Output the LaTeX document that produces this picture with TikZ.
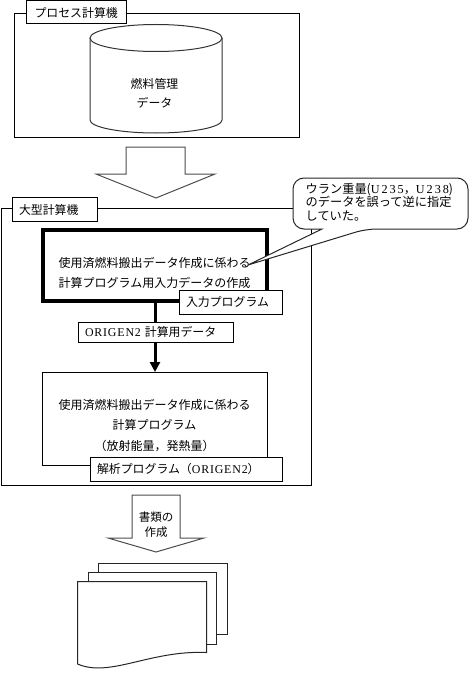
\documentclass[tikz,border=0pt]{standalone}
\usepackage{fontspec}
\setmainfont{Noto Sans CJK JP}
\newfontfamily\latinfont[LetterSpace=7]{Liberation Serif}
\newfontfamily\widelatin[LetterSpace=16]{Liberation Serif}
\usetikzlibrary{arrows.meta}
\begin{document}
\begin{tikzpicture}[
    x=1pt, y=-1pt,
    every node/.style={
        font=\fontsize{11.9}{13.5}\selectfont
    },
    frame box/.style={
        rectangle,
        draw=black,
        line width=1pt,
        anchor=north west,
        outer sep=0pt,
        inner sep=0pt
    },
    title box/.style={
        rectangle,
        draw=black,
        fill=white,
        line width=1pt,
        anchor=north west,
        align=left,
        outer sep=0pt,
        inner xsep=6.5pt,
        inner ysep=0pt
    },
    plain text/.style={
        align=center,
        inner sep=0pt
    },
    big arrow/.style={
        draw=black!70,
        fill=white,
        line width=1pt,
        line join=miter
    },
    sheet/.style={
        draw=black!85,
        fill=white,
        line width=1pt
    }
]
\useasboundingbox (0,0) rectangle (470,674);

% Process computer
\node[frame box, minimum width=284.5pt, minimum height=123pt] (processframe) at (14.5,14) {};
\node[title box, inner xsep=8pt, text width=83.5pt, minimum height=23pt] (processtitle) at (26.5,1) {プロセス計算機};

% Fuel data cylinder
\draw[draw=black!80, fill=white, line width=1pt] (90,38) -- (90,120)
    arc[start angle=180, end angle=360, x radius=66pt, y radius=13pt] -- (222,38);
\draw[draw=black!80, fill=white, line width=1pt] (156,38) ellipse[x radius=66pt, y radius=13.5pt];
\node[plain text] (fueltext) at (154.5,84) {燃料管理};
\node[plain text] (datatext) at (154.5,103) {データ};

% Arrow to large computer
\draw[big arrow] (126,147) -- (185,147) -- (185,174) -- (215,174) -- (156,198)
    -- (96,174) -- (126,174) -- cycle;

% Large computer
\node[frame box, minimum width=310.5pt, minimum height=277pt] (largeframe) at (1,208) {};
\node[title box, text width=72pt, minimum height=24pt] (largetitle) at (12.5,197.5) {大型計算機};

% Input data and analysis boxes
\node[frame box, line width=4pt, minimum width=224pt, minimum height=71pt] (inputbox) at (43,230) {};
\node[frame box, minimum width=225pt, minimum height=93pt] (calcbox) at (42.5,372) {};

% Connecting arrow
\draw[-{Triangle[width=10pt,length=10pt]}, line width=3pt] (inputbox.south) -- (calcbox.north);

\node[plain text, font=\fontsize{12}{20}\selectfont] (inputtext) at (154.5,273) {使用済燃料搬出データ作成に係わる\\計算プログラム用入力データの作成};
\node[plain text, font=\fontsize{12}{20.5}\selectfont] (calctext) at (154.5,425.5) {使用済燃料搬出データ作成に係わる\\計算プログラム\\（放射能量，発熱量）};

\node[title box, text width=90pt, minimum height=23.5pt] (inputtitle) at (179.5,290.5) {入力プログラム};
\node[title box, text width=142pt, minimum height=20pt] (datatitle) at (78.5,322) {{\latinfont ORIGEN2} 計算用データ};
\node[title box, text width=179pt, minimum height=24.5pt] (analysistitle) at (90.5,457) {解析プログラム（{\latinfont ORIGEN2}）};

% Comment balloon
\draw[draw=black!85, fill=white, line width=1pt, rounded corners=11pt] (293,229) -- (293,178) -- (468,178) -- (468,229)
    -- (366,229) [sharp corners] -- (248,265) -- (322,229) [rounded corners=11pt] -- cycle;
\node[plain text, align=left, anchor=north west, font=\fontsize{12.2}{13.5}\selectfont] (balloontext) at (305.5,183) {ウラン重量({\widelatin U235}，{\widelatin U238})\\のデータを誤って逆に指定\\していた。};

% Arrow to documents
\draw[big arrow] (132,495) -- (180,495) -- (180,538) -- (204,538) -- (156,552)
    -- (108,538) -- (132,538) -- cycle;
\node[plain text, font=\fontsize{11.5}{15}\selectfont] (arrowtext) at (156,525) {書類の\\作成};

% Document stack
\draw[sheet] (98.5,572) -- (98.5,563) -- (227,563) -- (227,634) -- (206,634) -- (206,572) -- cycle;
\draw[sheet] (88.5,581) -- (88.5,572) -- (216,572) -- (216,644) -- (200,644) -- (200,581) -- cycle;
\draw[sheet] (77.5,581.5) -- (206.5,581.5) -- (206.5,652.5)
    .. controls (150,650) and (110,678) .. (77.5,664) -- cycle;

\end{tikzpicture}
\end{document}
